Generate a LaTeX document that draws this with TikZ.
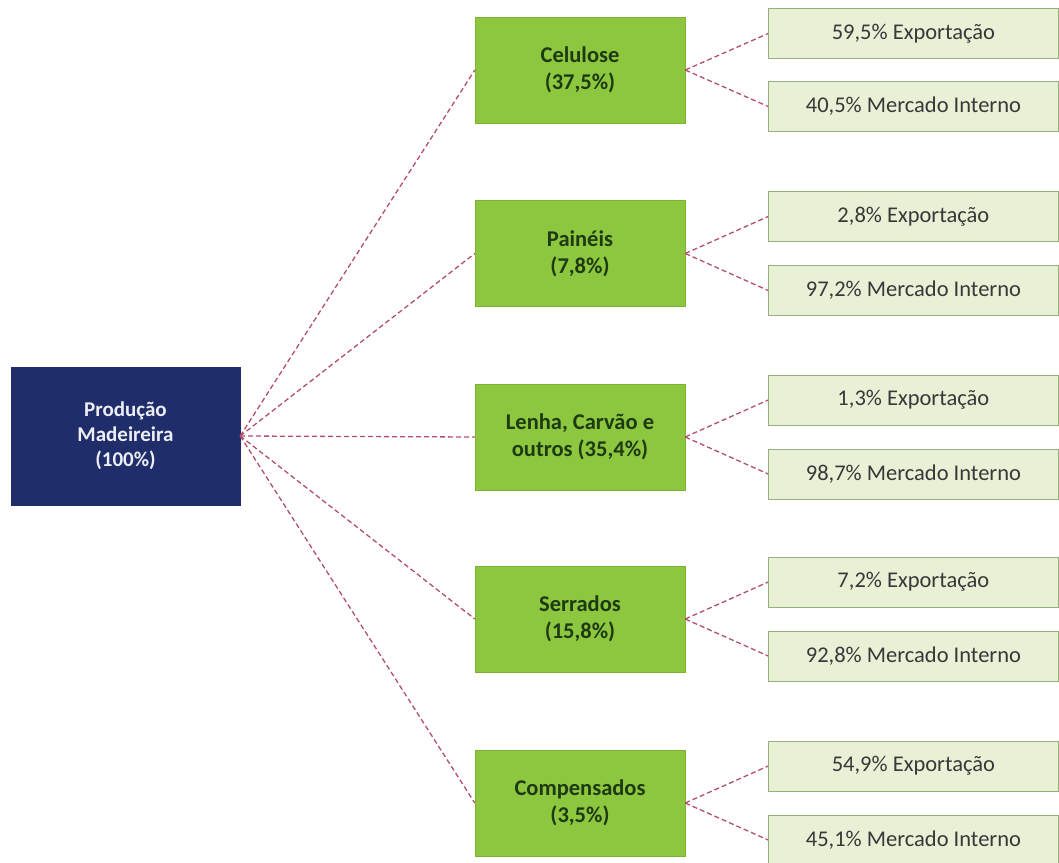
\documentclass[tikz,border=0pt]{standalone}
\usepackage{fontspec}
\setsansfont{Carlito}
\usepackage{xcolor}
\definecolor{Navy}{HTML}{1F2E6B}
\definecolor{Leaf}{HTML}{8DC63F}
\definecolor{LeafEdge}{HTML}{7DB335}
\definecolor{LeafInk}{HTML}{1E3A12}
\definecolor{Pale}{HTML}{E8F1D6}
\definecolor{PaleEdge}{HTML}{98AE7C}
\definecolor{Dash}{HTML}{B2506C}
\colorlet{navy}{Navy}
\colorlet{greenx}{Leaf}
\colorlet{greenedge}{LeafEdge}
\colorlet{greenink}{LeafInk}
\colorlet{palegreen}{Pale}
\colorlet{paleedge}{PaleEdge}
\colorlet{linkx}{Dash}
\usepackage{tikz}
\usetikzlibrary{positioning}

\begin{document}
\begin{tikzpicture}[x=1pt,y=-1pt,node distance=83pt,
  every node/.style={font=\sffamily,align=center},
  rootbox/.style={draw=navy,fill=navy,text=white!92!navy,minimum width=229pt,minimum height=138pt,font=\sffamily\bfseries\fontsize{21}{25}\selectfont},
  sectorbox/.style={draw=greenedge,fill=greenx,text=greenink,minimum width=210pt,minimum height=106pt,font=\sffamily\bfseries\fontsize{22.5}{27}\selectfont},
  sharebox/.style={draw=paleedge,fill=palegreen,text=black!78,minimum width=290pt,minimum height=50pt,font=\sffamily\fontsize{22.5}{25}\selectfont},
  link/.style={draw=linkx,line width=1.3pt,dash pattern=on 5pt off 3pt}]
\useasboundingbox (0,0) rectangle (1059,862);
\node[rootbox] (prod) at (125.5,436) {Produção\\Madeireira\\(100\%)};
\node[sectorbox] (cel) at (580,70) {Celulose\\(37,5\%)};
\node[sectorbox] (pan) at (580,253.5) {Painéis\\(7,8\%)};
\node[sectorbox] (len) at (580,437) {Lenha, Carvão e\\outros (35,4\%)};
\node[sectorbox] (ser) at (580,619) {Serrados\\(15,8\%)};
\node[sectorbox] (com) at (580,803) {Compensados\\(3,5\%)};
\node[sharebox,right=of cel,yshift=36.5pt] (celx) {59,5\% Exportação};
\node[sharebox,right=of cel,yshift=-36.5pt] (celm) {40,5\% Mercado Interno};
\node[sharebox,right=of pan,yshift=37pt] (panx) {2,8\% Exportação};
\node[sharebox,right=of pan,yshift=-37pt] (panm) {97,2\% Mercado Interno};
\node[sharebox,right=of len,yshift=37pt] (lenx) {1,3\% Exportação};
\node[sharebox,right=of len,yshift=-37pt] (lenm) {98,7\% Mercado Interno};
\node[sharebox,right=of ser,yshift=37pt] (serx) {7,2\% Exportação};
\node[sharebox,right=of ser,yshift=-37pt] (serm) {92,8\% Mercado Interno};
\node[sharebox,right=of com,yshift=37pt] (comx) {54,9\% Exportação};
\node[sharebox,right=of com,yshift=-37pt] (comm) {45,1\% Mercado Interno};
\draw[link] (prod.east)--(cel.west);\draw[link] (prod.east)--(pan.west);\draw[link] (prod.east)--(len.west);\draw[link] (prod.east)--(ser.west);\draw[link] (prod.east)--(com.west);
\draw[link] (cel.east)--(celx.west);\draw[link] (cel.east)--(celm.west);
\draw[link] (pan.east)--(panx.west);\draw[link] (pan.east)--(panm.west);
\draw[link] (len.east)--(lenx.west);\draw[link] (len.east)--(lenm.west);
\draw[link] (ser.east)--(serx.west);\draw[link] (ser.east)--(serm.west);
\draw[link] (com.east)--(comx.west);\draw[link] (com.east)--(comm.west);
\end{tikzpicture}
\end{document}
